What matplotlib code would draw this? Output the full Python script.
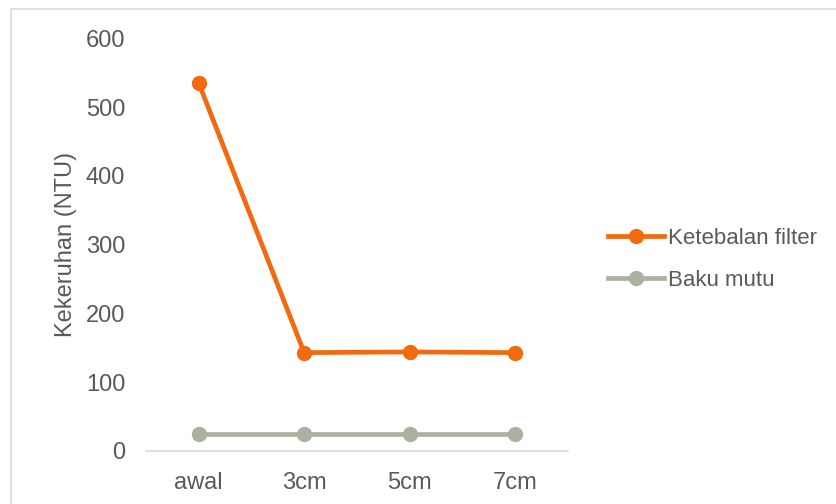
import matplotlib.pyplot as plt
from matplotlib.patches import Rectangle

plt.rcParams['font.family'] = ['Liberation Sans', 'DejaVu Sans']

categories = ['awal', '3cm', '5cm', '7cm']
ketebalan = [535, 143, 144, 143]
baku_mutu = [25, 25, 25, 25]

orange = '#F26A0F'
grey = '#A9B29E'
txt = '#595959'

fig = plt.figure(figsize=(8.37, 5.04), dpi=100)
ax = fig.add_axes([0.1744, 0.1052, 0.504, 0.8188])

x = range(len(categories))
ax.plot(x, ketebalan, color=orange, lw=3.4, marker='o', ms=10, label='Ketebalan filter')
ax.plot(x, baku_mutu, color=grey, lw=3.4, marker='o', ms=10, label='Baku mutu')

ax.set_xlim(-0.5, 3.5)
ax.set_ylim(0, 600)
ax.set_yticks(range(0, 601, 100))
ax.set_xticks(list(x))
ax.set_xticklabels(categories)
ax.tick_params(length=0, labelsize=17, colors=txt)
ax.tick_params(axis='y', pad=15)
ax.tick_params(axis='x', pad=15)
for s in ['top', 'right', 'left']:
    ax.spines[s].set_visible(False)
ax.spines['bottom'].set_color('#D9D9D9')
ax.spines['bottom'].set_linewidth(1.2)
ax.set_ylabel('Kekeruhan (NTU)', fontsize=17, color=txt, labelpad=6)

leg = fig.legend(loc='center left', bbox_to_anchor=(0.702, 0.485), frameon=False,
                 fontsize=16, handlelength=2.52, handletextpad=0.22, labelspacing=0.93)
for t in leg.get_texts():
    t.set_color(txt)

fig.patches.append(Rectangle((11 / 837, -0.05), 1.1, 1 - 9 / 504 + 0.05, transform=fig.transFigure,
                             fill=False, edgecolor='#D9D9D9', lw=1.2))

plt.savefig('out.png', dpi=100)
